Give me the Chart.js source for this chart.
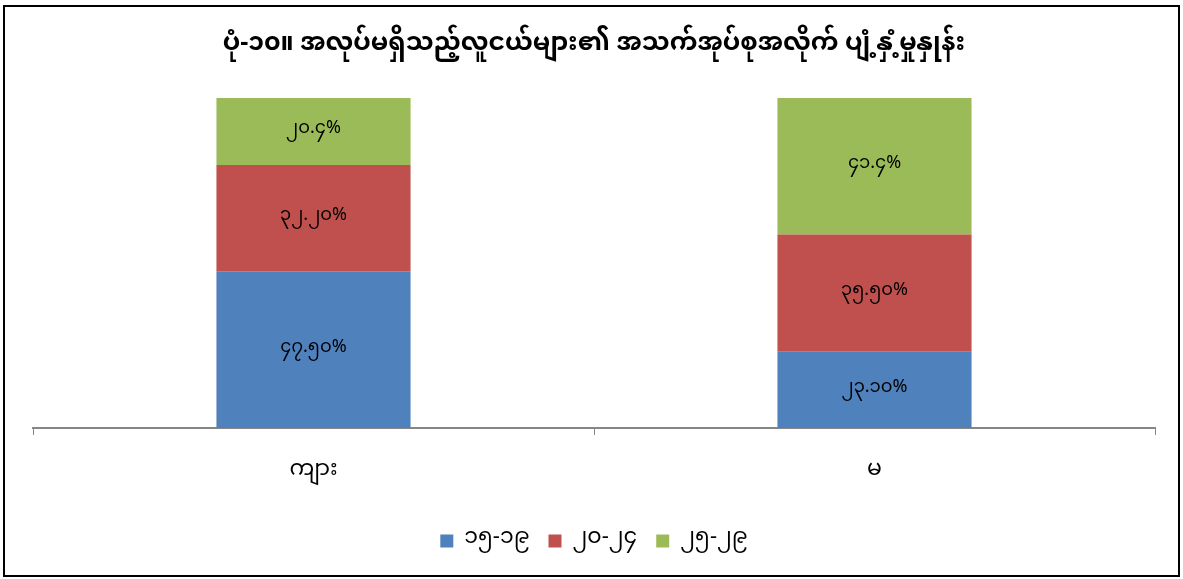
<html lang="my"><head>
    <meta charset="UTF-8">
    <title>ပုံ-၁၀</title>
    <script src="https://cdn.jsdelivr.net/npm/chart.js"></script>
    <style>
      body {
        margin: 0;
        background: white;
        font-family: "Noto Sans Myanmar", "Myanmar Text", Padauk, "Noto Sans", sans-serif;
      }

      .frame {
        position: absolute;
        left: 3px;
        top: 5px;
        width: 1177px;
        height: 572px;
        border: 2px solid #000;
        box-sizing: border-box;
      }

      canvas {
        display: block;
      }
    </style>
  </head>
  <body>
    <div class="frame">
      <canvas id="chart" width="1173" height="568"></canvas>
    </div>

    <script>
      const titleText = 'ပုံ-၁၀။ အလုပ်မရှိသည့်လူငယ်များ၏ အသက်အုပ်စုအလိုက် ပျံ့နှံ့မှုနှုန်း';
      const categories = ['ကျား', 'မ'];
      const ageGroups = ['၁၅-၁၉', '၂၀-၂၄', '၂၅-၂၉'];
      const age15to19 = [47.5, 23.1];
      const age20to24 = [32.2, 35.5];
      const age25to29 = [20.4, 41.4];
      const labels15to19 = ['၄၇.၅၀%', '၂၃.၁၀%'];
      const labels20to24 = ['၃၂.၂၀%', '၃၅.၅၀%'];
      const labels25to29 = ['၂၀.၄%', '၄၁.၄%'];
      const colors = ['#4F81BD', '#C0504D', '#9BBB59'];

      const fontFamily = '"Noto Sans Myanmar", "Myanmar Text", Padauk, "Noto Sans", sans-serif';

      // draws the value text in the middle of each bar segment
      const barText = {
        id: 'barText',
        afterDatasetsDraw(chart) {
          const ctx = chart.ctx;
          ctx.save();
          ctx.font = '18px ' + fontFamily;
          ctx.fillStyle = '#000';
          ctx.textAlign = 'center';
          ctx.textBaseline = 'middle';
          chart.data.datasets.forEach((ds, i) => {
            chart.getDatasetMeta(i).data.forEach((bar, j) => {
              const y = (bar.y + bar.base) / 2;
              ctx.fillText(ds.valueLabels[j], bar.x, y);
            });
          });
          ctx.restore();
        }
      };

      const seriesValues = [age15to19, age20to24, age25to29];
      const seriesLabels = [labels15to19, labels20to24, labels25to29];

      new Chart(document.getElementById('chart'), {
        type: 'bar',
        data: {
          labels: categories,
          datasets: ageGroups.map((name, i) => ({
            label: name,
            data: seriesValues[i],
            valueLabels: seriesLabels[i],
            backgroundColor: colors[i],
            borderWidth: 0,
            barPercentage: 0.346,
            categoryPercentage: 1
          }))
        },
        options: {
          responsive: false,
          animation: false,
          layout: { padding: { left: 28, right: 23, top: 15, bottom: 13 } },
          plugins: {
            title: {
              display: true,
              text: titleText,
              color: '#000',
              font: { family: fontFamily, size: 25, weight: 'bold' },
              padding: { top: 10, bottom: 36 }
            },
            legend: {
              position: 'bottom',
              labels: {
                color: '#000',
                boxWidth: 13,
                boxHeight: 13,
                padding: 19,
                font: { family: fontFamily, size: 22 }
              }
            },
            tooltip: { enabled: false }
          },
          scales: {
            x: {
              stacked: true,
              grid: {
                offset: true,
                drawOnChartArea: false,
                drawTicks: true,
                tickLength: 7,
                color: '#868686'
              },
              border: { color: '#868686', width: 2 },
              ticks: {
                color: '#000',
                padding: 24,
                font: { family: fontFamily, size: 22 }
              },
              afterFit(scale) { scale.height = 83; }
            },
            y: {
              stacked: true,
              display: false,
              min: 0,
              max: 100
            }
          }
        },
        plugins: [barText]
      });
    </script>
  </body></html>
